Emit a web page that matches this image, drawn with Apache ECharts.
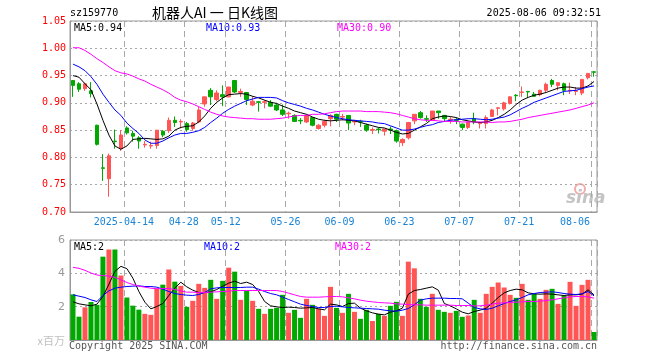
<!DOCTYPE html>
<html>
<head>
<meta charset="utf-8">
<script src="https://cdn.jsdelivr.net/npm/echarts@6/dist/echarts.min.js"></script>
<style>
html,body{margin:0;padding:0;background:#fff;}
#chart{width:660px;height:360px;}
</style>
</head>
<body>
<div id="chart"></div>
<script>
const dates = [
'2025-03-31','2025-04-01','2025-04-02','2025-04-03','2025-04-07','2025-04-08','2025-04-09','2025-04-10','2025-04-11',
'2025-04-14','2025-04-15','2025-04-16','2025-04-17','2025-04-18',
'2025-04-21','2025-04-22','2025-04-23','2025-04-24','2025-04-25',
'2025-04-28','2025-04-29','2025-04-30',
'2025-05-06','2025-05-07','2025-05-08','2025-05-09',
'2025-05-12','2025-05-13','2025-05-14','2025-05-15','2025-05-16',
'2025-05-19','2025-05-20','2025-05-21','2025-05-22','2025-05-23',
'2025-05-26','2025-05-27','2025-05-28','2025-05-29','2025-05-30',
'2025-06-03','2025-06-04','2025-06-05','2025-06-06',
'2025-06-09','2025-06-10','2025-06-11','2025-06-12','2025-06-13',
'2025-06-16','2025-06-17','2025-06-18','2025-06-19','2025-06-20',
'2025-06-23','2025-06-24','2025-06-25','2025-06-26','2025-06-27',
'2025-06-30','2025-07-01','2025-07-02','2025-07-03','2025-07-04',
'2025-07-07','2025-07-08','2025-07-09','2025-07-10','2025-07-11',
'2025-07-14','2025-07-15','2025-07-16','2025-07-17','2025-07-18',
'2025-07-21','2025-07-22','2025-07-23','2025-07-24','2025-07-25',
'2025-07-28','2025-07-29','2025-07-30','2025-07-31','2025-08-01',
'2025-08-04','2025-08-05','2025-08-06'];

const tickDates = ['2025-04-14','2025-04-28','2025-05-12','2025-05-26','2025-06-09','2025-06-23','2025-07-07','2025-07-21','2025-08-06'];
const tickTexts = ['2025-04-14','04-28','05-12','05-26','06-09','06-23','07-07','07-21','08-06'];

const opens = [0.941,0.935,0.926,0.922,0.859,0.781,0.761,0.830,0.816,0.854,
0.844,0.836,0.823,0.821,0.822,0.848,0.849,0.868,0.865,0.862,
0.853,0.865,0.898,0.923,0.906,0.915,0.911,0.941,0.919,0.919,
0.896,0.902,0.901,0.901,0.896,0.887,0.880,0.877,0.868,0.865,
0.873,0.853,0.859,0.871,0.879,0.874,0.877,0.865,0.866,0.859,
0.850,0.852,0.848,0.852,0.849,0.827,0.836,0.867,0.882,0.871,
0.868,0.885,0.877,0.869,0.869,0.861,0.855,0.871,0.862,0.862,
0.875,0.890,0.889,0.899,0.914,0.919,0.921,0.916,0.915,0.923,
0.941,0.932,0.935,0.922,0.921,0.918,0.946,0.957];

const closes = [0.932,0.925,0.935,0.917,0.824,0.780,0.803,0.829,0.841,0.845,
0.839,0.830,0.824,0.822,0.850,0.841,0.868,0.864,0.866,0.851,
0.863,0.887,0.911,0.911,0.918,0.911,0.929,0.920,0.921,0.906,
0.903,0.901,0.902,0.894,0.887,0.879,0.881,0.866,0.867,0.877,
0.859,0.859,0.866,0.877,0.870,0.875,0.863,0.866,0.865,0.850,
0.851,0.851,0.852,0.850,0.830,0.833,0.864,0.879,0.873,0.870,
0.885,0.882,0.871,0.870,0.868,0.855,0.865,0.865,0.863,0.873,
0.887,0.891,0.900,0.911,0.913,0.920,0.920,0.912,0.923,0.934,
0.934,0.937,0.923,0.923,0.922,0.943,0.954,0.956];

const lows = [0.911,0.920,0.922,0.910,0.822,0.757,0.728,0.816,0.812,0.842,
0.829,0.816,0.818,0.816,0.816,0.837,0.845,0.856,0.853,0.847,
0.849,0.863,0.893,0.896,0.903,0.894,0.910,0.918,0.911,0.896,
0.894,0.884,0.890,0.893,0.885,0.876,0.871,0.865,0.861,0.863,
0.857,0.851,0.855,0.857,0.865,0.868,0.850,0.859,0.856,0.847,
0.843,0.844,0.840,0.843,0.827,0.821,0.833,0.861,0.871,0.865,
0.867,0.871,0.865,0.862,0.861,0.850,0.852,0.861,0.853,0.853,
0.874,0.877,0.886,0.897,0.903,0.911,0.909,0.911,0.912,0.919,
0.929,0.923,0.914,0.916,0.914,0.914,0.943,0.948];

const highs = [0.941,0.938,0.937,0.938,0.860,0.806,0.807,0.851,0.850,0.857,
0.849,0.839,0.830,0.829,0.850,0.850,0.873,0.875,0.870,0.865,
0.865,0.893,0.911,0.927,0.923,0.932,0.929,0.941,0.926,0.920,
0.912,0.903,0.905,0.905,0.900,0.897,0.884,0.879,0.872,0.879,
0.874,0.861,0.869,0.879,0.880,0.880,0.877,0.869,0.869,0.862,
0.855,0.855,0.852,0.857,0.851,0.835,0.865,0.879,0.885,0.877,
0.885,0.885,0.877,0.874,0.873,0.862,0.866,0.882,0.865,0.877,
0.889,0.892,0.902,0.912,0.916,0.930,0.921,0.920,0.924,0.937,
0.944,0.937,0.937,0.937,0.929,0.943,0.954,0.958];

const ma5 = [0.950,0.947,0.935,0.924,0.898,0.868,0.841,0.821,0.815,0.821,
0.833,0.834,0.835,0.834,0.833,0.834,0.839,0.850,0.855,0.857,
0.858,0.865,0.876,0.890,0.901,0.909,0.915,0.916,0.917,0.916,
0.912,0.909,0.905,0.901,0.899,0.894,0.890,0.885,0.882,0.879,
0.874,0.870,0.868,0.867,0.868,0.869,0.868,0.867,0.864,0.861,
0.858,0.855,0.854,0.850,0.846,0.843,0.844,0.850,0.856,0.862,
0.871,0.874,0.876,0.875,0.873,0.869,0.867,0.865,0.864,0.865,
0.868,0.873,0.879,0.887,0.897,0.905,0.910,0.914,0.916,0.919,
0.923,0.927,0.929,0.929,0.927,0.927,0.931,0.939];

const ma10 = [0.971,0.966,0.959,0.948,0.934,0.916,0.901,0.887,0.877,0.863,
0.853,0.844,0.832,0.826,0.826,0.830,0.836,0.841,0.844,0.844,
0.846,0.849,0.855,0.864,0.872,0.881,0.888,0.894,0.899,0.904,
0.907,0.910,0.910,0.910,0.909,0.904,0.900,0.897,0.894,0.890,
0.887,0.883,0.879,0.876,0.873,0.871,0.869,0.868,0.867,0.866,
0.865,0.863,0.862,0.858,0.854,0.850,0.850,0.852,0.855,0.858,
0.860,0.864,0.866,0.868,0.869,0.870,0.871,0.871,0.870,0.869,
0.870,0.872,0.874,0.878,0.884,0.890,0.895,0.901,0.905,0.909,
0.913,0.917,0.921,0.922,0.923,0.926,0.929,0.931];

const ma30 = [1.001,1.001,0.996,0.989,0.981,0.974,0.966,0.959,0.955,0.953,
0.949,0.944,0.940,0.934,0.929,0.924,0.918,0.910,0.905,0.902,
0.898,0.893,0.888,0.883,0.879,0.876,0.874,0.873,0.872,0.871,
0.871,0.870,0.870,0.870,0.871,0.872,0.874,0.876,0.877,0.877,
0.879,0.879,0.880,0.882,0.884,0.885,0.885,0.885,0.885,0.884,
0.884,0.884,0.883,0.882,0.880,0.877,0.874,0.871,0.869,0.868,
0.868,0.867,0.866,0.866,0.866,0.865,0.865,0.865,0.865,0.865,
0.864,0.865,0.865,0.866,0.868,0.870,0.873,0.875,0.877,0.879,
0.881,0.883,0.885,0.887,0.890,0.893,0.896,0.900];

const volumes = [2.74,1.40,1.96,2.28,2.11,5.00,5.43,5.43,3.87,2.55,
2.06,1.82,1.57,1.51,3.10,3.32,4.23,3.50,3.25,1.99,
2.35,3.37,3.13,3.61,2.47,3.55,4.34,4.10,2.41,2.95,
2.35,1.87,1.57,1.87,1.93,2.71,1.63,1.81,1.33,2.47,
2.11,1.87,1.45,3.19,1.93,1.63,2.77,1.69,1.27,1.81,
1.14,1.57,1.45,2.05,2.29,1.45,4.70,4.30,2.47,1.99,
2.77,1.81,1.69,1.63,1.75,1.39,1.47,2.41,1.63,2.77,
3.19,3.45,3.15,2.71,2.53,3.37,2.41,2.77,2.47,3.01,
3.07,2.17,2.67,3.49,2.05,3.31,3.61,0.48];

const vma5 = [2.29,2.17,2.11,2.05,2.15,2.61,3.35,4.12,4.42,4.28,
3.71,2.91,2.27,1.87,2.01,2.19,2.67,3.11,3.47,3.19,
2.99,2.85,2.85,2.89,3.03,3.23,3.41,3.53,3.39,3.47,
3.33,2.91,2.31,2.05,1.99,1.95,1.97,1.95,1.91,1.93,
1.95,1.87,1.81,2.15,2.11,2.01,2.19,2.21,1.91,1.75,
1.63,1.55,1.51,1.67,1.75,1.91,2.75,2.97,3.03,3.11,
3.19,2.99,2.19,2.05,1.87,1.67,1.57,1.71,1.79,1.91,
2.21,2.55,2.83,2.97,3.05,3.01,2.83,2.77,2.75,2.77,
2.75,2.71,2.67,2.71,2.71,2.75,3.01,2.71];

const vma10 = [2.71,2.63,2.55,2.41,2.31,2.67,2.95,3.11,3.17,3.21,
3.23,3.25,3.21,3.21,3.17,3.05,2.91,2.79,2.73,2.69,
2.67,2.73,2.85,3.07,3.13,3.15,3.15,3.15,3.15,3.17,
3.17,3.05,2.91,2.79,2.71,2.57,2.43,2.29,2.15,2.07,
2.01,1.95,1.95,2.01,2.03,1.99,1.95,1.93,1.91,1.89,
1.87,1.85,1.79,1.75,1.73,1.79,1.89,2.11,2.39,2.47,
2.51,2.51,2.51,2.49,2.49,2.47,2.21,1.95,1.87,1.83,
1.91,2.05,2.19,2.31,2.41,2.55,2.71,2.79,2.85,2.87,
2.89,2.85,2.79,2.75,2.73,2.77,2.91,2.65];

const vma30 = [4.36,4.30,4.18,4.02,3.90,3.86,3.84,3.76,3.61,3.45,
3.33,3.23,3.17,3.11,3.07,3.09,3.09,3.03,2.95,2.87,
2.87,2.85,2.85,2.87,2.89,2.91,2.93,2.97,2.97,2.97,
2.97,2.97,2.97,2.97,2.97,2.91,2.81,2.71,2.61,2.57,
2.57,2.57,2.59,2.61,2.61,2.59,2.53,2.47,2.39,2.33,
2.29,2.25,2.23,2.21,2.17,2.15,2.13,2.11,2.11,2.09,
2.09,2.09,2.09,2.09,2.07,2.07,2.07,2.05,2.05,2.09,
2.15,2.21,2.23,2.25,2.27,2.29,2.31,2.31,2.33,2.37,
2.41,2.47,2.53,2.59,2.61,2.61,2.59,2.51];

const priceLegend = ['MA5:0.94','MA10:0.93','MA30:0.90'];
const volLegend = ['MA5:2','MA10:2','MA30:2'];

const RED = '#ff5555', GREEN = '#00a800';
const MONO = '"DejaVu Sans Mono", "Liberation Mono", monospace';
const GRIDC = '#a8a8a8';
const tickIdx = new Set(tickDates.map(d => dates.indexOf(d)));
const lastTick = dates.indexOf(tickDates[tickDates.length - 1]);
const isTick = (i) => tickIdx.has(i);

const candleData = dates.map((d, i) => [opens[i], closes[i], lows[i], highs[i]]);
const volData = volumes.map((v, i) => ({
  value: v,
  itemStyle: { color: closes[i] >= opens[i] ? RED : GREEN }
}));

const chart = echarts.init(document.getElementById('chart'), null, { renderer: 'canvas' });

function txt(text, x, y, color, font, align) {
  return { type: 'text', silent: true, style: { text: text, x: x, y: y, fill: color, font: font, textAlign: align || 'left', textVerticalAlign: 'middle', verticalAlign: 'middle' } };
}

const option = {
  animation: false,
  backgroundColor: '#ffffff',
  grid: [
    { left: 70, top: 21, width: 527, height: 191, show: true, borderColor: '#999', borderWidth: 1, backgroundColor: 'transparent' },
    { left: 70, top: 240, width: 527, height: 100, show: true, borderColor: '#999', borderWidth: 1, backgroundColor: 'transparent' }
  ],
  xAxis: [
    {
      type: 'category', gridIndex: 0, data: dates, boundaryGap: true,
      axisLine: { show: true, lineStyle: { color: '#999' } },
      axisTick: { show: false },
      axisLabel: {
        interval: (i) => isTick(i),
        formatter: (v, i) => {
          const t = tickTexts[tickDates.indexOf(v)];
          return dates.indexOf(v) === lastTick ? '{r|' + t + '}' : t;
        },
        color: '#1a84d4', fontFamily: MONO, fontSize: 10, margin: 5,
        padding: [0, 6, 0, 0],
        rich: { r: { color: '#1a84d4', fontFamily: MONO, fontSize: 10, padding: [0, 32, 0, 0] } }
      },
      splitLine: { show: true, interval: (i) => isTick(i), lineStyle: { type: [6, 4], color: GRIDC, width: 1 } }
    },
    {
      type: 'category', gridIndex: 1, data: dates, boundaryGap: true,
      axisLine: { show: true, lineStyle: { color: '#999' } },
      axisTick: { show: false },
      axisLabel: { show: false },
      splitLine: { show: true, interval: (i) => isTick(i), lineStyle: { type: [6, 4], color: GRIDC, width: 1 } }
    }
  ],
  yAxis: [
    {
      type: 'value', gridIndex: 0, min: 0.70, max: 1.05, interval: 0.05, scale: false,
      axisLine: { show: true, lineStyle: { color: '#999' } },
      axisTick: { show: false },
      axisLabel: { color: '#ff0000', fontFamily: MONO, fontSize: 10, margin: 4, formatter: (v) => v.toFixed(2) },
      splitLine: { show: true, lineStyle: { type: [2, 3], color: GRIDC, width: 1 } }
    },
    {
      type: 'value', gridIndex: 1, min: 0, max: 6, interval: 2,
      axisLine: { show: true, lineStyle: { color: '#999' } },
      axisTick: { show: false },
      axisLabel: { color: '#999', fontFamily: '"DejaVu Sans", sans-serif', fontSize: 11, margin: 5, formatter: (v) => v === 0 ? '' : String(v) },
      splitLine: { show: true, lineStyle: { type: [2, 3], color: GRIDC, width: 1 } }
    }
  ],
  series: [
    {
      type: 'candlestick', xAxisIndex: 0, yAxisIndex: 0, data: candleData, barWidth: 4, silent: true,
      itemStyle: { color: RED, color0: GREEN, borderColor: RED, borderColor0: GREEN, borderWidth: 1 }
    },
    { type: 'line', xAxisIndex: 0, yAxisIndex: 0, data: ma5, symbol: 'none', silent: true, z: 5, lineStyle: { width: 1, color: '#000000' }, itemStyle: { color: '#000000' } },
    { type: 'line', xAxisIndex: 0, yAxisIndex: 0, data: ma10, symbol: 'none', silent: true, z: 5, lineStyle: { width: 1, color: '#0000ff' }, itemStyle: { color: '#0000ff' } },
    { type: 'line', xAxisIndex: 0, yAxisIndex: 0, data: ma30, symbol: 'none', silent: true, z: 5, lineStyle: { width: 1, color: '#ff00ff' }, itemStyle: { color: '#ff00ff' } },
    { type: 'bar', xAxisIndex: 1, yAxisIndex: 1, data: volData, barWidth: 5, silent: true },
    { type: 'line', xAxisIndex: 1, yAxisIndex: 1, data: vma5, symbol: 'none', silent: true, z: 5, lineStyle: { width: 1, color: '#000000' }, itemStyle: { color: '#000000' } },
    { type: 'line', xAxisIndex: 1, yAxisIndex: 1, data: vma10, symbol: 'none', silent: true, z: 5, lineStyle: { width: 1, color: '#0000ff' }, itemStyle: { color: '#0000ff' } },
    { type: 'line', xAxisIndex: 1, yAxisIndex: 1, data: vma30, symbol: 'none', silent: true, z: 5, lineStyle: { width: 1, color: '#ff00ff' }, itemStyle: { color: '#ff00ff' } }
  ],
  graphic: [
    txt('sz159770', 70, 13, '#000', '10px ' + MONO),
    txt('机器人AI 一 日K线图', 215, 13, '#000', '14px "Noto Sans CJK SC", sans-serif', 'center'),
    txt('2025-08-06 09:32:51', 601, 13, '#000', '10px ' + MONO, 'right'),
    txt(priceLegend[0], 74, 28, '#000000', '10px ' + MONO),
    txt(priceLegend[1], 206, 28, '#0000ff', '10px ' + MONO),
    txt(priceLegend[2], 337, 28, '#ff00ff', '10px ' + MONO),
    txt(volLegend[0], 74, 247, '#000000', '10px ' + MONO),
    txt(volLegend[1], 204, 247, '#0000ff', '10px ' + MONO),
    txt(volLegend[2], 335, 247, '#ff00ff', '10px ' + MONO),
    txt('x百万', 65, 341, '#c0c0c0', '11px "Noto Sans CJK SC", sans-serif', 'right'),
    txt('Copyright 2025 SINA.COM', 69, 346, '#555', '10px ' + MONO),
    txt('http://finance.sina.com.cn', 597, 346, '#555', '10px ' + MONO, 'right'),
    { type: 'circle', silent: true, shape: { cx: 580, cy: 189, r: 5 }, style: { fill: 'none', stroke: '#f3aaaa', lineWidth: 2 } },
    txt('sina', 566, 199, '#c4c4c4', 'italic bold 17px "DejaVu Sans", sans-serif')
  ]
};
chart.setOption(option);
</script>
</body>
</html>
